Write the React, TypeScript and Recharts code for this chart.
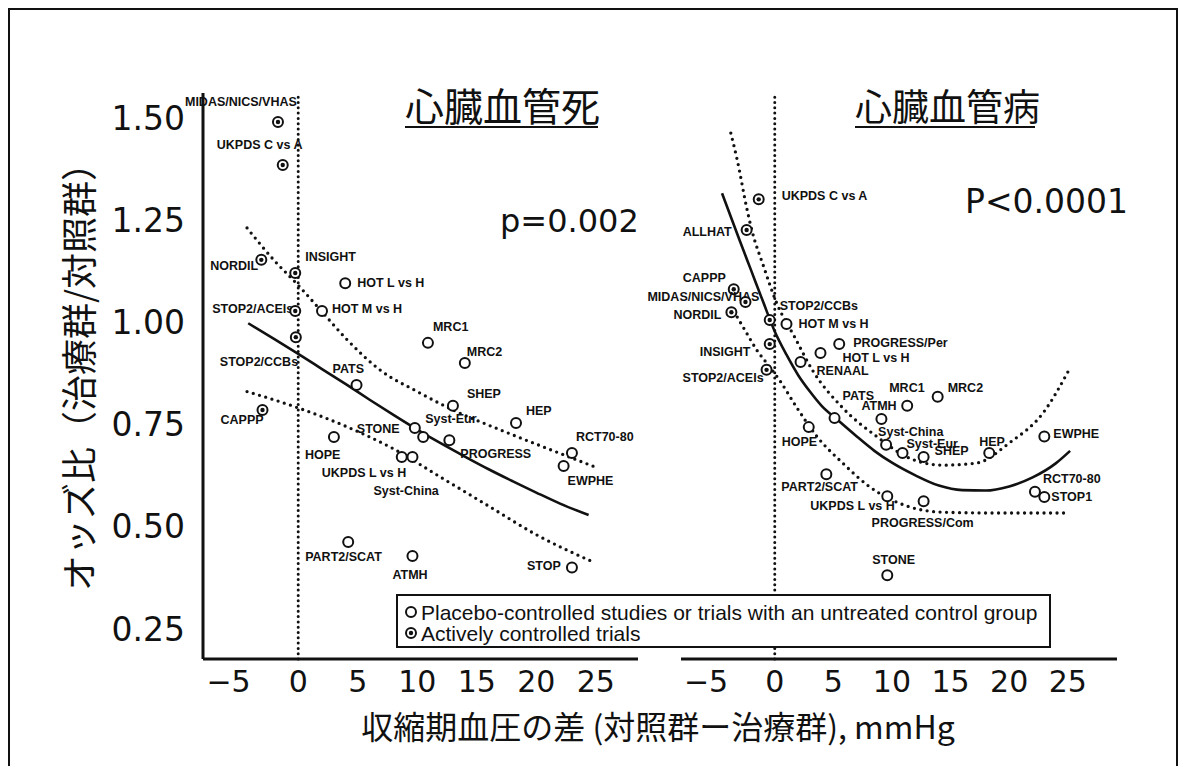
import React from 'react';
import { ComposedChart, Scatter, Line, XAxis, YAxis, ReferenceLine } from 'recharts';

// left panel: 心臓血管死
const leftStudies = ['MIDAS/NICS/VHAS', 'UKPDS C vs A', 'NORDIL', 'INSIGHT', 'HOT L vs H', 'STOP2/ACEIs', 'HOT M vs H', 'STOP2/CCBs', 'MRC1', 'MRC2', 'PATS', 'SHEP', 'CAPPP', 'STONE', 'Syst-Eur', 'PROGRESS', 'HOPE', 'UKPDS L vs H', 'Syst-China', 'HEP', 'RCT70-80', 'EWPHE', 'STOP', 'PART2/SCAT', 'ATMH'];
const leftDiff = [-1.7, -1.3, -3.1, -0.25, 3.95, -0.25, 2.0, -0.2, 10.9, 14.0, 4.9, 13.0, -3.0, 9.8, 10.5, 12.7, 3.0, 8.7, 9.6, 18.3, 23.0, 22.3, 23.0, 4.2, 9.6];
const leftOdds = [1.489, 1.384, 1.152, 1.12, 1.095, 1.027, 1.027, 0.963, 0.949, 0.9, 0.846, 0.795, 0.785, 0.741, 0.719, 0.711, 0.719, 0.67, 0.67, 0.753, 0.68, 0.648, 0.4, 0.462, 0.428];
const leftActive = [true, true, true, true, false, true, false, true, false, false, false, false, true, false, false, false, false, false, false, false, false, false, false, false, false];

const leftFitDiff = [-4.2, -2, 0, 2, 4, 6, 8, 10, 12, 14, 16, 18, 20, 22, 24.4];
const leftFitOdds = [0.997, 0.958, 0.922, 0.885, 0.848, 0.81, 0.773, 0.737, 0.703, 0.671, 0.64, 0.611, 0.583, 0.556, 0.528];
const leftUpperDiff = [-4.3, -2, 0, 2, 4, 7, 10, 13, 17, 21, 25];
const leftUpperOdds = [1.23, 1.15, 1.09, 1.025, 0.96, 0.88, 0.83, 0.785, 0.736, 0.69, 0.645];
const leftLowerDiff = [-4.3, 0, 4, 8, 12, 16, 20, 24.8];
const leftLowerOdds = [0.83, 0.79, 0.745, 0.69, 0.62, 0.55, 0.48, 0.413];

// right panel: 心臓血管病
const rightStudies = ['UKPDS C vs A', 'ALLHAT', 'CAPPP', 'MIDAS/NICS/VHAS', 'NORDIL', 'STOP2/CCBs', 'HOT M vs H', 'INSIGHT', 'STOP2/ACEIs', 'PROGRESS/Per', 'HOT L vs H', 'RENAAL', 'PATS', 'ATMH', 'MRC1', 'MRC2', 'HOPE', 'Syst-China', 'Syst-Eur', 'SHEP', 'HEP', 'EWPHE', 'PART2/SCAT', 'RCT70-80', 'STOP1', 'UKPDS L vs H', 'PROGRESS/Com', 'STONE'];
const rightDiff = [-1.37, -2.4, -3.5, -2.5, -3.7, -0.43, 1.0, -0.43, -0.7, 5.5, 3.9, 2.2, 5.1, 9.1, 11.3, 13.9, 2.9, 9.5, 10.9, 12.7, 18.3, 23.0, 4.4, 22.2, 23.0, 9.6, 12.7, 9.6];
const rightOdds = [1.3, 1.225, 1.08, 1.049, 1.024, 1.005, 0.995, 0.946, 0.883, 0.946, 0.924, 0.902, 0.765, 0.763, 0.795, 0.817, 0.743, 0.7, 0.68, 0.67, 0.68, 0.72, 0.628, 0.585, 0.572, 0.574, 0.562, 0.381];
const rightActive = [true, true, true, true, true, true, false, true, true, false, false, false, false, false, false, false, false, false, false, false, false, false, false, false, false, false, false, false];

const rightFitDiff = [-4.5, -3, -2, -1, 0, 1, 2, 3, 4, 5.3, 7, 8.5, 10, 12, 14, 16, 18, 20, 22, 24, 25.2];
const rightFitOdds = [1.315, 1.2, 1.125, 1.05, 0.977, 0.92, 0.87, 0.83, 0.795, 0.762, 0.72, 0.685, 0.656, 0.625, 0.6, 0.589, 0.588, 0.598, 0.62, 0.655, 0.685];
const rightUpperDiff = [-3.75, -3.2, -2.4, -1.96, -1, 0.17, 1.7, 3.2, 5.8, 8.7, 11.5, 14.3, 17.2, 20, 22.9, 25.2];
const rightUpperOdds = [1.462, 1.396, 1.28, 1.225, 1.14, 1.046, 0.963, 0.883, 0.79, 0.72, 0.667, 0.65, 0.655, 0.704, 0.778, 0.888];
const rightLowerDiff = [-3.2, -2.4, -1.5, -0.7, 0.4, 1.9, 3.6, 5.8, 8.1, 11.5, 14.3, 18.6, 24.7];
const rightLowerOdds = [1.012, 0.973, 0.93, 0.9, 0.858, 0.79, 0.72, 0.655, 0.597, 0.548, 0.535, 0.533, 0.533];

const xTicks = [-5, 0, 5, 10, 15, 20, 25];
const yTicks = [0.25, 0.5, 0.75, 1.0, 1.25, 1.5];

// label offsets (dx, dy) from marker centre
const leftLabelOffset: Record<string, [number, number]> = {
  'MIDAS/NICS/VHAS': [-93, -16], 'UKPDS C vs A': [-66, -16], NORDIL: [-51, 10], INSIGHT: [10, -12],
  'HOT L vs H': [12, 4], 'STOP2/ACEIs': [-83, 2], 'HOT M vs H': [10, 2], 'STOP2/CCBs': [-76, 29],
  MRC1: [5, -12], MRC2: [2, -7], PATS: [-24, -12], SHEP: [14, -8], CAPPP: [-42, 14], STONE: [-58, 5],
  'Syst-Eur': [2, -14], PROGRESS: [11, 18], HOPE: [-29, 22], 'UKPDS L vs H': [-80, 20], 'Syst-China': [-39, 38],
  HEP: [10, -8], 'RCT70-80': [4, -12], EWPHE: [4, 19], STOP: [-45, 3], 'PART2/SCAT': [-43, 19], ATMH: [-20, 23],
};
const rightLabelOffset: Record<string, [number, number]> = {
  'UKPDS C vs A': [23, 1], ALLHAT: [-64, 6], CAPPP: [-51, -7], 'MIDAS/NICS/VHAS': [-98, -1], NORDIL: [-58, 7],
  'STOP2/CCBs': [10, -10], 'HOT M vs H': [12, 4], INSIGHT: [-70, 12], 'STOP2/ACEIs': [-84, 12],
  'PROGRESS/Per': [14, 3], 'HOT L vs H': [22, 9], RENAAL: [16, 13], PATS: [8, -18], ATMH: [-20, -9],
  MRC1: [-18, -14], MRC2: [10, -5], HOPE: [-27, 19], 'Syst-China': [-8, -9], 'Syst-Eur': [4, -5],
  SHEP: [11, -2], HEP: [-10, -7], EWPHE: [9, 1], 'PART2/SCAT': [-45, 17], 'RCT70-80': [8, -9], STOP1: [7, 4],
  'UKPDS L vs H': [-77, 14], 'PROGRESS/Com': [-52, 26], STONE: [-15, -11],
};

const toPts = (xs: number[], ys: number[]) => xs.map((x, i) => ({ x, y: ys[i] }));
const toStudies = (names: string[], xs: number[], ys: number[], act: boolean[]) =>
  names.map((name, i) => ({ name, x: xs[i], y: ys[i], active: act[i] }));

const INK = '#111';
const Y_DOMAIN: [number, number] = [0.176, 1.56];

const markShape = (offsets: Record<string, [number, number]>) => (props: any) => {
  const { cx, cy, payload } = props;
  const [dx, dy] = offsets[payload.name] ?? [8, 4];
  return (
    <g>
      <text x={cx + dx} y={cy + dy} fontSize={12.5} fontWeight={700} fontFamily="'Liberation Sans', Arial, sans-serif" fill={INK}>
        {payload.name}
      </text>
      <circle cx={cx} cy={cy} r={5} fill="#fff" stroke={INK} strokeWidth={2} />
      {payload.active && <circle cx={cx} cy={cy} r={2.2} fill={INK} />}
    </g>
  );
};

const XTick = ({ x, y, payload }: any) => {
  const v = payload.value;
  return (
    <text x={v < 0 ? x + 12 : x} y={y + 33} textAnchor={v < 0 ? 'end' : 'middle'} fontSize={30} fontFamily="'DejaVu Sans', sans-serif" fill={INK}>
      {v < 0 ? `\u2212${Math.abs(v)}` : v}
    </text>
  );
};

const YTick = ({ x, y, payload }: any) => (
  <text x={x} y={y + 12} textAnchor="end" fontSize={33} fontFamily="'DejaVu Sans', sans-serif" fill={INK}>
    {payload.value.toFixed(2)}
  </text>
);

const dotted = { strokeDasharray: '0 6.5', strokeLinecap: 'round' as const, strokeWidth: 3.3 };

type PanelProps = {
  left: number;
  width: number;
  margin: { top: number; right: number; bottom: number; left: number };
  xDomain: [number, number];
  showY: boolean;
  studies: any[];
  fit: any[];
  upper: any[];
  lower: any[];
  offsets: Record<string, [number, number]>;
};

const Panel = ({ left, width, margin, xDomain, showY, studies, fit, upper, lower, offsets }: PanelProps) => (
  <div style={{ position: 'absolute', left, top: 0 }}>
    <ComposedChart width={width} height={766} margin={margin}>
      <XAxis
        type="number"
        dataKey="x"
        domain={xDomain}
        ticks={xTicks}
        tick={<XTick />}
        tickLine={false}
        tickSize={0}
        tickMargin={0}
        height={40}
        axisLine={{ stroke: INK, strokeWidth: 3 }}
      />
      <YAxis
        type="number"
        dataKey="y"
        domain={Y_DOMAIN}
        ticks={yTicks}
        hide={!showY}
        width={100}
        tick={<YTick />}
        tickLine={false}
        tickSize={0}
        tickMargin={18}
        axisLine={{ stroke: INK, strokeWidth: 3 }}
      />
      <ReferenceLine x={0} stroke={INK} strokeWidth={3} strokeDasharray="0 5.3" strokeLinecap="round" />
      <Line data={upper} dataKey="y" type="monotone" stroke={INK} {...dotted} dot={false} activeDot={false} isAnimationActive={false} />
      <Line data={lower} dataKey="y" type="monotone" stroke={INK} {...dotted} dot={false} activeDot={false} isAnimationActive={false} />
      <Line data={fit} dataKey="y" type="monotone" stroke={INK} strokeWidth={2.6} dot={false} activeDot={false} isAnimationActive={false} />
      <Scatter data={studies} dataKey="y" shape={markShape(offsets)} isAnimationActive={false} />
    </ComposedChart>
  </div>
);

const jp = "'Noto Sans CJK JP', sans-serif";
const dv = "'DejaVu Sans', sans-serif";
const lib = "'Liberation Sans', Arial, sans-serif";

export default function App() {
  return (
    <div style={{ position: 'absolute', left: 0, top: 0, width: 1180, height: 766, overflow: 'hidden', background: '#fff' }}>
      <div style={{ position: 'absolute', left: 8, top: 8, width: 1170, height: 820, border: `2px solid ${INK}`, boxSizing: 'border-box' }} />
      <Panel
        left={0}
        width={660}
        margin={{ top: 93, right: 22, bottom: 67, left: 103 }}
        xDomain={[-8, 28.55]}
        showY
        studies={toStudies(leftStudies, leftDiff, leftOdds, leftActive)}
        fit={toPts(leftFitDiff, leftFitOdds)}
        upper={toPts(leftUpperDiff, leftUpperOdds)}
        lower={toPts(leftLowerDiff, leftLowerOdds)}
        offsets={leftLabelOffset}
      />
      <Panel
        left={620}
        width={560}
        margin={{ top: 93, right: 63, bottom: 67, left: 61 }}
        xDomain={[-8, 29.2]}
        showY={false}
        studies={toStudies(rightStudies, rightDiff, rightOdds, rightActive)}
        fit={toPts(rightFitDiff, rightFitOdds)}
        upper={toPts(rightUpperDiff, rightUpperOdds)}
        lower={toPts(rightLowerDiff, rightLowerOdds)}
        offsets={rightLabelOffset}
      />
      <svg width={1180} height={766} style={{ position: 'absolute', left: 0, top: 0, pointerEvents: 'none' }}>
        <text x={405} y={121} fontSize={39} fontFamily={jp} fill={INK}>心臓血管死</text>
        <line x1={405} x2={598} y1={127} y2={127} stroke={INK} strokeWidth={2} />
        <text x={855} y={121} fontSize={37} fontFamily={jp} fill={INK}>心臓血管病</text>
        <line x1={855} x2={1035} y1={127} y2={127} stroke={INK} strokeWidth={2} />
        <text x={500} y={232} fontSize={32} fontFamily={dv} fill={INK}>p=0.002</text>
        <text x={965} y={213} fontSize={33} fontFamily={dv} fill={INK}>P&lt;0.0001</text>
        <text x={77} y={368} transform="rotate(-90 77 368)" textAnchor="middle" dominantBaseline="central" fontSize={36} fontFamily={jp} fill={INK}>
          オッズ比（治療群/対照群）
        </text>
        <text x={658} y={739} textAnchor="middle" fontSize={32} fontFamily={jp} fill={INK}>
          収縮期血圧の差 (対照群ー治療群), mmHg
        </text>
        <rect x={397} y={595} width={653} height={52} fill="#fff" stroke={INK} strokeWidth={2} />
        <circle cx={411} cy={612} r={5} fill="#fff" stroke={INK} strokeWidth={2} />
        <text x={421} y={619.5} fontSize={21} fontFamily={lib} fill={INK}>
          Placebo-controlled studies or trials with an untreated control group
        </text>
        <circle cx={411} cy={633} r={5} fill="#fff" stroke={INK} strokeWidth={2} />
        <circle cx={411} cy={633} r={2.2} fill={INK} />
        <text x={421} y={640.5} fontSize={21} fontFamily={lib} fill={INK}>
          Actively controlled trials
        </text>
      </svg>
    </div>
  );
}
